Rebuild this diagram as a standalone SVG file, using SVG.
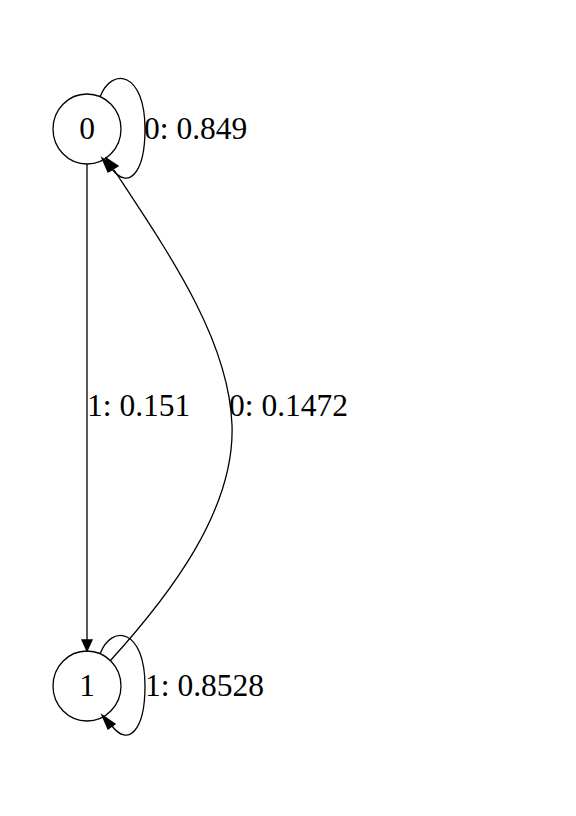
<svg xmlns="http://www.w3.org/2000/svg" width="576" height="816" viewBox="0 0 576 816">
<style>
.n ellipse{fill:none;stroke:#000;stroke-width:1.3}
text{font-family:"Liberation Serif","Times New Roman",serif;font-size:31.5px;fill:#000}
.e path{fill:none;stroke:#000;stroke-width:1.3}
.e polygon{fill:#000;stroke:#000;stroke-width:1.3}
</style>
<rect width="576" height="816" fill="#fff"/>
<g class="e" id="edges">
<g id="e00"><path d="M100,97 C112,66 145,72 145,129 C145,174 128,190 112,169"/><polygon points="102,158 115,167 108,172"/><text x="144" y="139">0: 0.849</text></g>
<g id="e01"><path d="M87,164 L87,640"/><polygon points="87,651 82,640 92,640"/><text x="87" y="416">1: 0.151</text></g>
<g id="e10"><path d="M110,661 C170,595 235,510 232,425 C229,340 170,255 114,170"/><polygon points="106,158 118,166 110,171"/><text x="229" y="416">0: 0.1472</text></g>
<g id="e11"><path d="M100,654 C112,623 145,629 145,686 C145,731 128,747 112,726"/><polygon points="102,715 115,724 108,729"/><text x="145" y="696">1: 0.8528</text></g>
</g>
<g class="n" id="n0"><ellipse cx="87" cy="129" rx="34" ry="35"/><text x="87" y="139" text-anchor="middle">0</text></g>
<g class="n" id="n1"><ellipse cx="87" cy="686" rx="34" ry="35"/><text x="87" y="696" text-anchor="middle">1</text></g>
</svg>
